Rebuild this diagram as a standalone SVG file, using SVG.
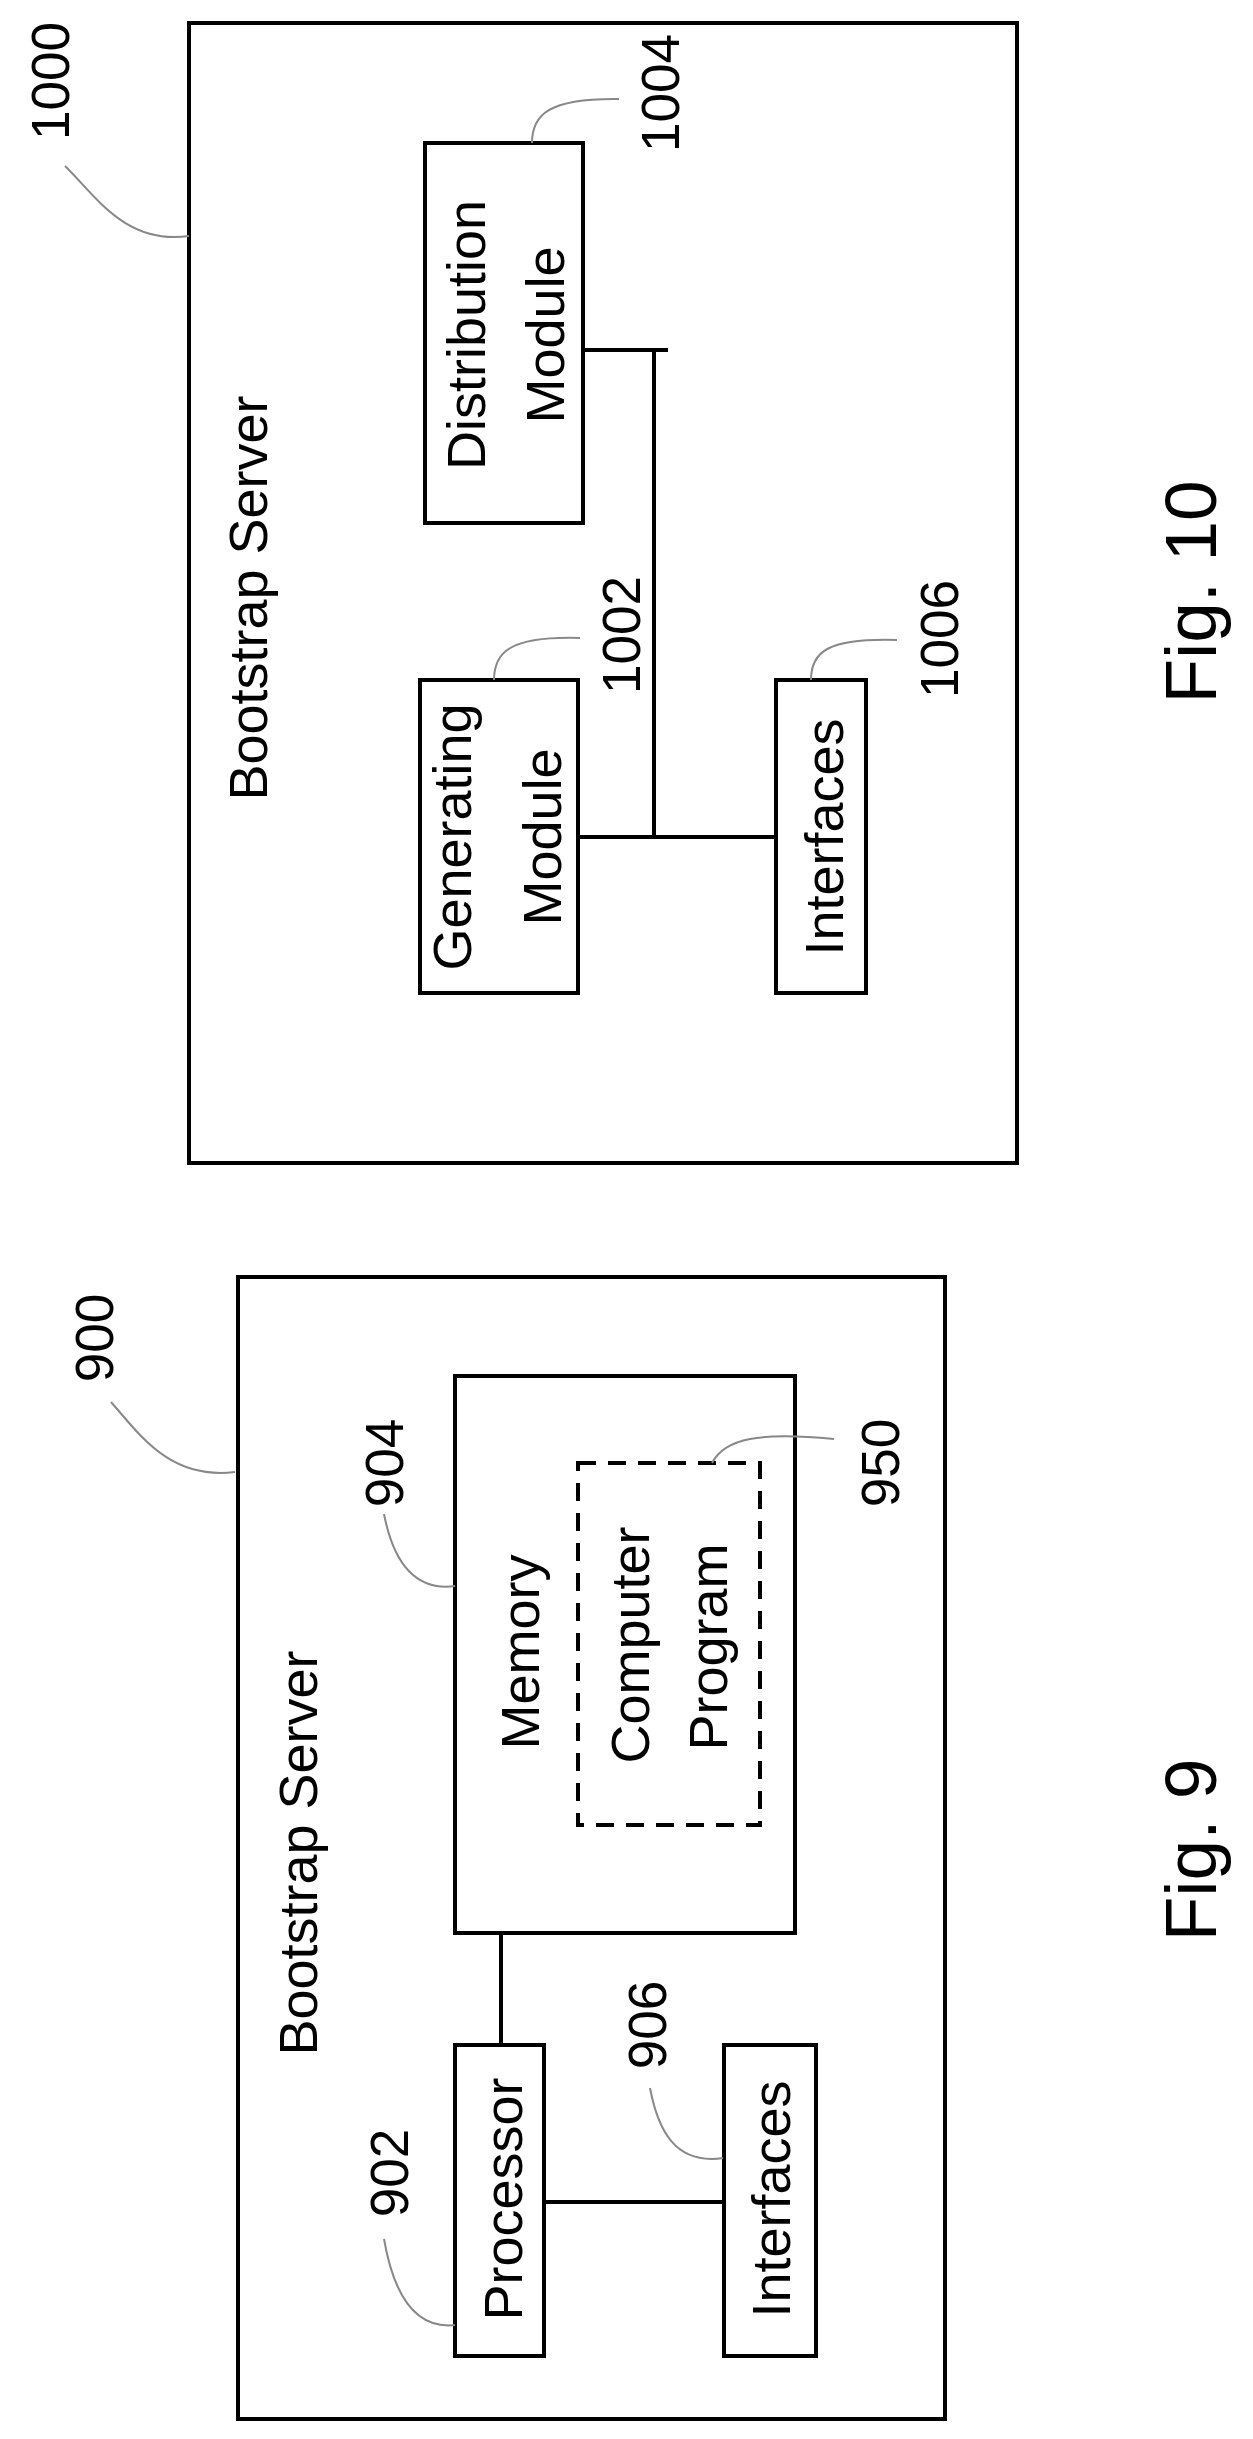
<svg xmlns="http://www.w3.org/2000/svg" width="1253" height="2439" viewBox="0 0 1253 2439">
<style>
.box{fill:none;stroke:#000;stroke-width:4}
.dash{fill:none;stroke:#000;stroke-width:4;stroke-dasharray:18 12}
.ln{fill:none;stroke:#000;stroke-width:4}
.ld{fill:none;stroke:#888;stroke-width:2}
text{font-family:"Liberation Sans",Arial,sans-serif;fill:#000;text-anchor:middle}
.t{font-size:54px}.n{font-size:53px}.f{font-size:73px}
</style>
<rect width="1253" height="2439" fill="#fff"/>
<g id="fig10">
<g id="n1000"><rect class="box" x="189" y="23" width="828" height="1140"/>
<text class="t" transform="translate(267,598) rotate(-90)">Bootstrap Server</text>
<text class="n" transform="translate(69,81) rotate(-90)">1000</text>
<path class="ld" d="M65,166 C95,195 125,245 189,236"/></g>
<g id="n1004"><rect class="box" x="425" y="143" width="158" height="380"/>
<text class="t" transform="translate(485,335) rotate(-90)">Distribution</text>
<text class="t" transform="translate(564,335) rotate(-90)">Module</text>
<text class="n" transform="translate(679,93) rotate(-90)">1004</text>
<path class="ld" d="M532,143 C532,115 548,98 619,99"/></g>
<g id="n1002"><rect class="box" x="420" y="680" width="158" height="313"/>
<text class="t" transform="translate(471,837) rotate(-90)">Generating</text>
<text class="t" transform="translate(561,837) rotate(-90)">Module</text>
<text class="n" transform="translate(640,635) rotate(-90)">1002</text>
<path class="ld" d="M494,680 C494,652 510,636 580,638"/></g>
<g id="n1006"><rect class="box" x="776" y="680" width="90" height="313"/>
<text class="t" transform="translate(843,837) rotate(-90)">Interfaces</text>
<text class="n" transform="translate(958,639) rotate(-90)">1006</text>
<path class="ld" d="M811,680 C811,652 827,638 897,640"/></g>
<text class="f" transform="translate(1216,592) rotate(-90)">Fig. 10</text>
</g>
<g id="fig9">
<g id="n900"><rect class="box" x="238" y="1277" width="707" height="1142"/>
<text class="t" transform="translate(317,1853) rotate(-90)">Bootstrap Server</text>
<text class="n" transform="translate(113,1338) rotate(-90)">900</text>
<path class="ld" d="M111,1402 C140,1435 170,1480 235,1472"/></g>
<g id="n904"><rect class="box" x="455" y="1376" width="340" height="557"/>
<text class="t" transform="translate(539,1652) rotate(-90)">Memory</text>
<text class="n" transform="translate(403,1463) rotate(-90)">904</text>
<path class="ld" d="M384,1514 C392,1555 410,1592 455,1586"/></g>
<g id="n950"><rect class="dash" x="578" y="1463" width="182" height="362"/>
<text class="t" transform="translate(649,1645) rotate(-90)">Computer</text>
<text class="t" transform="translate(727,1647) rotate(-90)">Program</text>
<text class="n" transform="translate(899,1463) rotate(-90)">950</text>
<path class="ld" d="M712,1463 C725,1438 760,1432 834,1439"/></g>
<g id="n902"><rect class="box" x="455" y="2045" width="89" height="311"/>
<text class="t" transform="translate(522,2199) rotate(-90)">Processor</text>
<text class="n" transform="translate(408,2173) rotate(-90)">902</text>
<path class="ld" d="M384,2239 C392,2285 410,2330 455,2325"/></g>
<g id="n906"><rect class="box" x="724" y="2045" width="92" height="311"/>
<text class="t" transform="translate(790,2199) rotate(-90)">Interfaces</text>
<text class="n" transform="translate(666,2025) rotate(-90)">906</text>
<path class="ld" d="M650,2088 C658,2130 675,2165 723,2158"/></g>
<text class="f" transform="translate(1216,1850) rotate(-90)">Fig. 9</text>
</g>
<g id="connectors">
<path class="ln" d="M583,350 H668 M654,350 V837 M578,837 H776"/>
<path class="ln" d="M501,1933 V2045 M544,2202 H724"/>
</g>
</svg>
